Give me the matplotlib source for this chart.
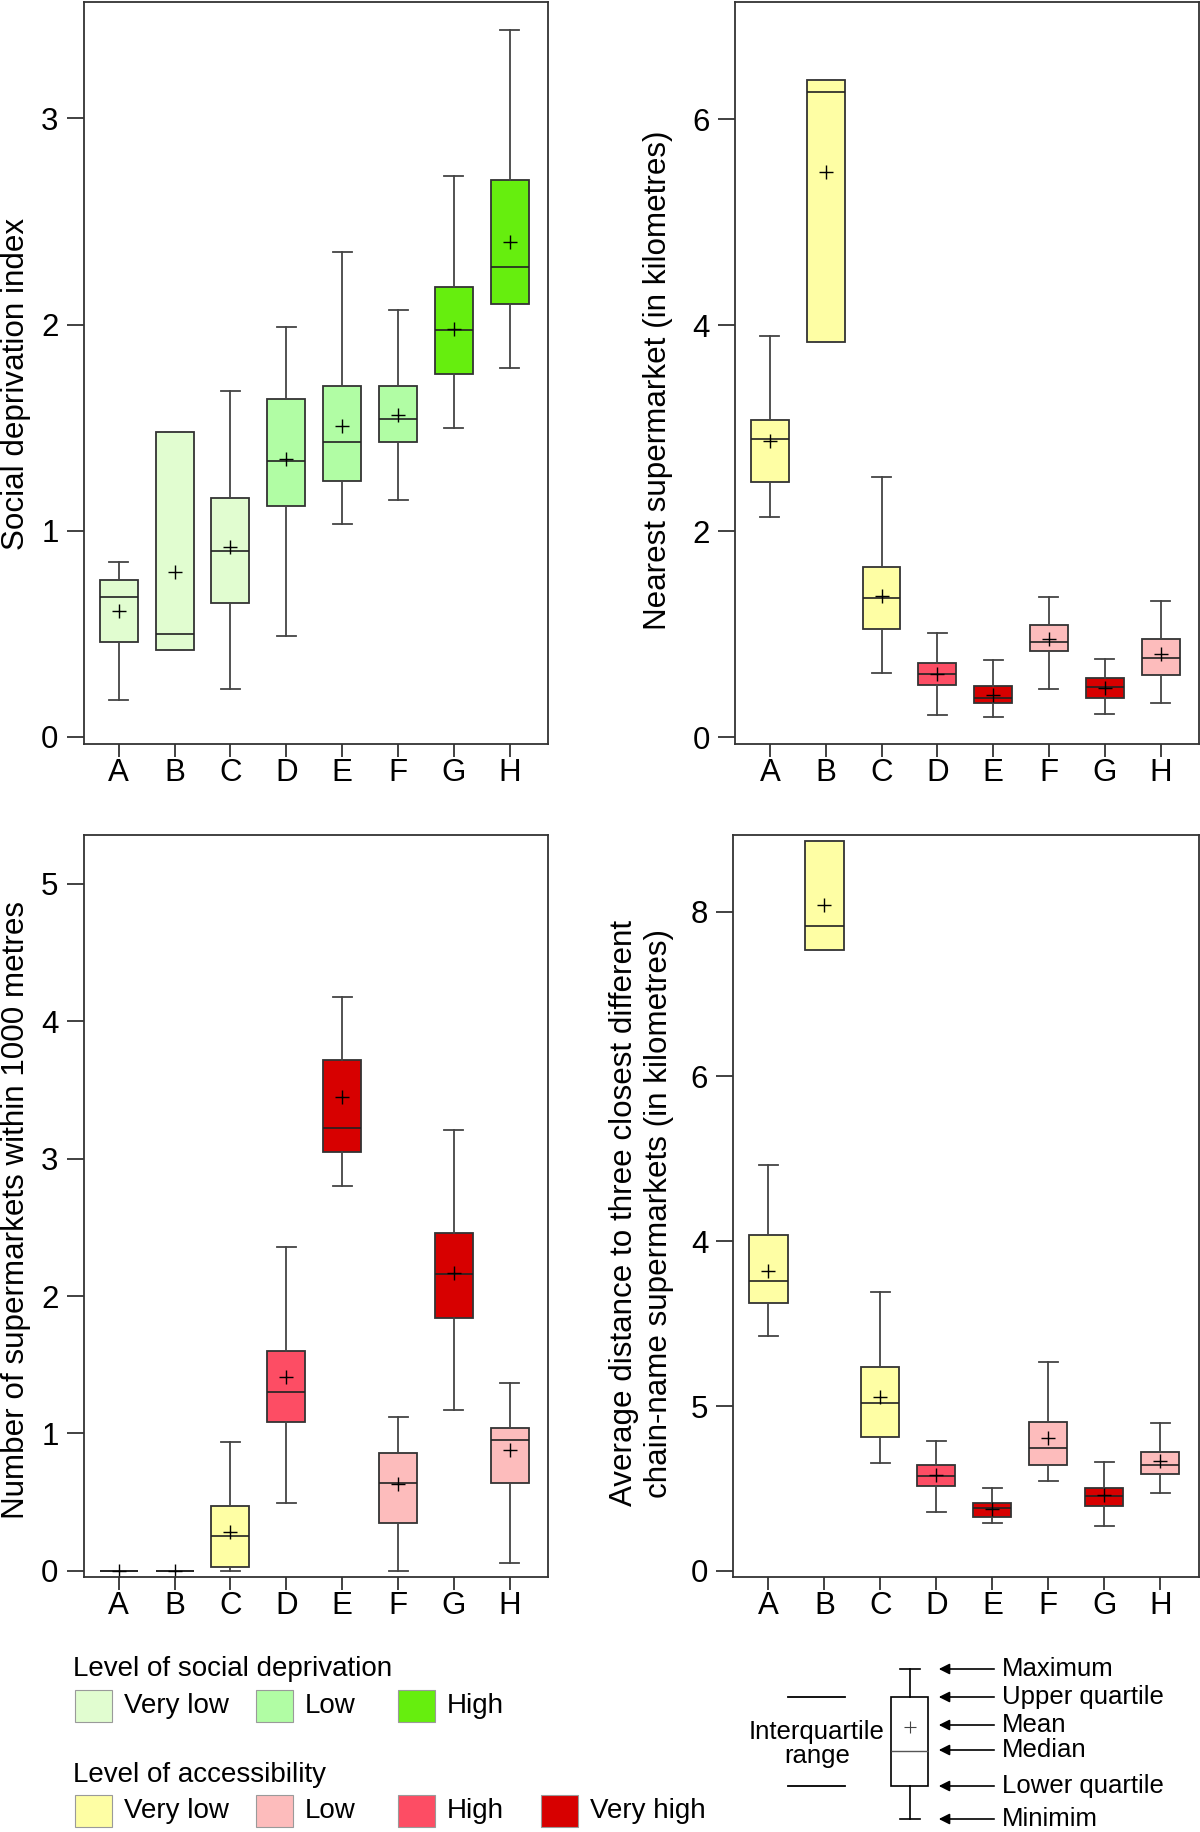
import matplotlib
matplotlib.use('Agg')
import matplotlib.pyplot as plt

plt.rcParams['font.family'] = ['Liberation Sans', 'DejaVu Sans']

## groups on the x axis
groups = ['A', 'B', 'C', 'D', 'E', 'F', 'G', 'H']

## level of each group (used for the box colours)
dep_level = ['Very low', 'Very low', 'Very low', 'Low', 'Low', 'Low', 'High', 'High']
acc_level = ['Very low', 'Very low', 'Very low', 'High', 'Very high', 'Low', 'Very high', 'Low']

dep_colors = {'Very low': '#e1fdd0', 'Low': '#b1fda4', 'High': '#66ee0e'}
acc_colors = {'Very low': '#fefea4', 'Low': '#fdbcbc', 'High': '#fd4d64', 'Very high': '#d70000'}

## social deprivation index
sdi_min = [0.18, 0.42, 0.23, 0.49, 1.03, 1.15, 1.50, 1.79]
sdi_q1 = [0.46, 0.42, 0.65, 1.12, 1.24, 1.43, 1.76, 2.10]
sdi_med = [0.68, 0.50, 0.90, 1.34, 1.43, 1.54, 1.975, 2.28]
sdi_q3 = [0.76, 1.48, 1.16, 1.64, 1.70, 1.70, 2.18, 2.70]
sdi_max = [0.85, 1.48, 1.68, 1.99, 2.35, 2.07, 2.72, 3.43]
sdi_mean = [0.61, 0.80, 0.92, 1.35, 1.51, 1.56, 1.98, 2.40]

## nearest supermarket (km)
near_min = [2.14, 3.84, 0.62, 0.22, 0.20, 0.47, 0.23, 0.33]
near_q1 = [2.48, 3.84, 1.05, 0.51, 0.33, 0.84, 0.38, 0.60]
near_med = [2.90, 6.27, 1.35, 0.61, 0.38, 0.93, 0.49, 0.77]
near_q3 = [3.08, 6.38, 1.65, 0.72, 0.50, 1.09, 0.58, 0.95]
near_max = [3.90, 6.38, 2.53, 1.01, 0.75, 1.36, 0.76, 1.32]
near_mean = [2.88, 5.49, 1.37, 0.61, 0.41, 0.95, 0.48, 0.81]

## number of supermarkets within 1000 m
num_min = [0.0, 0.0, 0.0, 0.49, 2.80, 0.0, 1.17, 0.06]
num_q1 = [0.0, 0.0, 0.03, 1.08, 3.05, 0.35, 1.84, 0.64]
num_med = [0.0, 0.0, 0.25, 1.30, 3.22, 0.64, 2.16, 0.95]
num_q3 = [0.0, 0.0, 0.47, 1.60, 3.72, 0.86, 2.46, 1.04]
num_max = [0.0, 0.0, 0.94, 2.36, 4.18, 1.12, 3.21, 1.37]
num_mean = [0.0, 0.0, 0.28, 1.41, 3.45, 0.63, 2.17, 0.88]

## average distance to three closest chain-name supermarkets (km)
avg_min = [2.85, 7.54, 1.31, 0.71, 0.58, 1.09, 0.54, 0.95]
avg_q1 = [3.25, 7.54, 1.63, 1.03, 0.66, 1.29, 0.79, 1.18]
avg_med = [3.52, 7.83, 2.04, 1.15, 0.76, 1.49, 0.91, 1.28]
avg_q3 = [4.08, 8.86, 2.48, 1.29, 0.82, 1.81, 1.01, 1.44]
avg_max = [4.93, 8.86, 3.39, 1.58, 1.01, 2.54, 1.32, 1.79]
avg_mean = [3.64, 8.08, 2.11, 1.16, 0.75, 1.61, 0.92, 1.33]

edge = '#333333'
label_size = 22.6


def draw_panel(ax, mins, q1, med, q3, maxs, means, colors, ylim, yticks, yticklabels):
    stats = []
    for g, a, b, c, d, e, m in zip(groups, mins, q1, med, q3, maxs, means):
        stats.append(dict(label=g, whislo=a, q1=b, med=c, q3=d, whishi=e, mean=m, fliers=[]))
    bp = ax.bxp(stats, positions=range(1, 9), widths=0.68, capwidths=0.34,
                patch_artist=True, showmeans=True, showfliers=False,
                boxprops=dict(edgecolor=edge, linewidth=1.3),
                whiskerprops=dict(color='#444444', linewidth=1.3),
                capprops=dict(color='#444444', linewidth=1.3),
                medianprops=dict(color='#222222', linewidth=1.2),
                meanprops=dict(marker='+', markeredgecolor='black', markersize=10,
                               markeredgewidth=1.0, linestyle='none'))
    for patch, col in zip(bp['boxes'], colors):
        patch.set_facecolor(col)
    ax.set_xlim(0.37, 8.69)
    ax.set_ylim(*ylim)
    ax.set_yticks(yticks)
    ax.set_yticklabels(yticklabels)
    ax.tick_params(axis='both', direction='out', width=1.3, color=edge, labelsize=22.5)
    ax.tick_params(axis='x', length=9, pad=1)
    ax.tick_params(axis='y', length=12, pad=6)
    for spine in ax.spines.values():
        spine.set_color(edge)
        spine.set_linewidth(1.3)


fig = plt.figure(figsize=(12, 18.32), dpi=100)

ax1 = fig.add_axes([0.0696, 0.5939, 0.3873, 0.405])
ax2 = fig.add_axes([0.6123, 0.5939, 0.3869, 0.405])
ax3 = fig.add_axes([0.0696, 0.1392, 0.3873, 0.405])
ax4 = fig.add_axes([0.6110, 0.1392, 0.3882, 0.405])

draw_panel(ax1, sdi_min, sdi_q1, sdi_med, sdi_q3, sdi_max, sdi_mean,
           [dep_colors[l] for l in dep_level], (-0.035, 3.565), [0, 1, 2, 3], ['0', '1', '2', '3'])
ax1.set_ylabel('Social deprivation index', fontsize=label_size, va='center')
ax1.yaxis.set_label_coords(-0.145, 0.485)

draw_panel(ax2, near_min, near_q1, near_med, near_q3, near_max, near_mean,
           [acc_colors[l] for l in acc_level], (-0.065, 7.14), [0, 2, 4, 6], ['0', '2', '4', '6'])
ax2.set_ylabel('Nearest supermarket (in kilometres)', fontsize=label_size, va='center')
ax2.yaxis.set_label_coords(-0.165, 0.49)

draw_panel(ax3, num_min, num_q1, num_med, num_q3, num_max, num_mean,
           [acc_colors[l] for l in acc_level], (-0.045, 5.356), [0, 1, 2, 3, 4, 5],
           ['0', '1', '2', '3', '4', '5'])
ax3.set_ylabel('Number of supermarkets within 1000 metres', fontsize=label_size, va='center')
ax3.yaxis.set_label_coords(-0.145, 0.495)

# tick labels as printed in the original figure
draw_panel(ax4, avg_min, avg_q1, avg_med, avg_q3, avg_max, avg_mean,
           [acc_colors[l] for l in acc_level], (-0.074, 8.93), [0, 2, 4, 6, 8],
           ['0', '5', '4', '6', '8'])
ax4.set_ylabel('Average distance to three closest different\nchain-name supermarkets (in kilometres)',
               fontsize=label_size, va='center', linespacing=1.2)
ax4.yaxis.set_label_coords(-0.197, 0.49)

## legends, drawn in pixel units of the bottom strip
leg = fig.add_axes([0, 0, 1, 262 / 1832])
leg.set_xlim(0, 1200)
leg.set_ylim(1832, 1570)
leg.axis('off')

dep_items = ['Very low', 'Low', 'High']
acc_items = ['Very low', 'Low', 'High', 'Very high']
item_x = [75, 256, 398, 541]

leg.text(73, 1669, 'Level of social deprivation', fontsize=20, va='center', ha='left')
for x, name in zip(item_x, dep_items):
    leg.add_patch(plt.Rectangle((x, 1690), 37, 32, facecolor=dep_colors[name],
                                edgecolor='#9a9a9a', linewidth=0.8))
    leg.text(x + 49, 1706, name, fontsize=20, va='center', ha='left')

leg.text(73, 1775, 'Level of accessibility', fontsize=20, va='center', ha='left')
for x, name in zip(item_x, acc_items):
    leg.add_patch(plt.Rectangle((x, 1795), 37, 32, facecolor=acc_colors[name],
                                edgecolor='#9a9a9a', linewidth=0.8))
    leg.text(x + 49, 1811, name, fontsize=20, va='center', ha='left')

# box plot key
key = [dict(whislo=1819, q1=1786, med=1751, q3=1697, whishi=1669, mean=1727, fliers=[])]
leg.bxp(key, positions=[909.5], widths=37.6, capwidths=20, manage_ticks=False,
        patch_artist=True, showmeans=True,
        boxprops=dict(facecolor='white', edgecolor='black', linewidth=1.2),
        whiskerprops=dict(color='black', linewidth=1.2),
        capprops=dict(color='black', linewidth=1.2),
        medianprops=dict(color='#555555', linewidth=1.0),
        meanprops=dict(marker='+', markeredgecolor='#444444', markersize=8,
                       markeredgewidth=0.8, linestyle='none'))
leg.set_xlim(0, 1200)
leg.set_ylim(1832, 1570)

key_labels = ['Maximum', 'Upper quartile', 'Mean', 'Median', 'Lower quartile', 'Minimim']
key_y = [1669, 1697, 1725, 1750, 1786, 1819]
for lab, y in zip(key_labels, key_y):
    leg.annotate('', xy=(936, y), xytext=(997, y),
                 arrowprops=dict(arrowstyle='-|>', color='black', lw=1.2, mutation_scale=16))
    leg.text(1002, y, lab, fontsize=18.5, va='center', ha='left')

leg.plot([788, 845], [1697, 1697], color='black', lw=1.3)
leg.plot([788, 845], [1786, 1786], color='black', lw=1.3)
leg.text(817, 1744, 'Interquartile\nrange', fontsize=18.5, ha='center', va='center', linespacing=1.05)

fig.savefig('out.png', dpi=100)
